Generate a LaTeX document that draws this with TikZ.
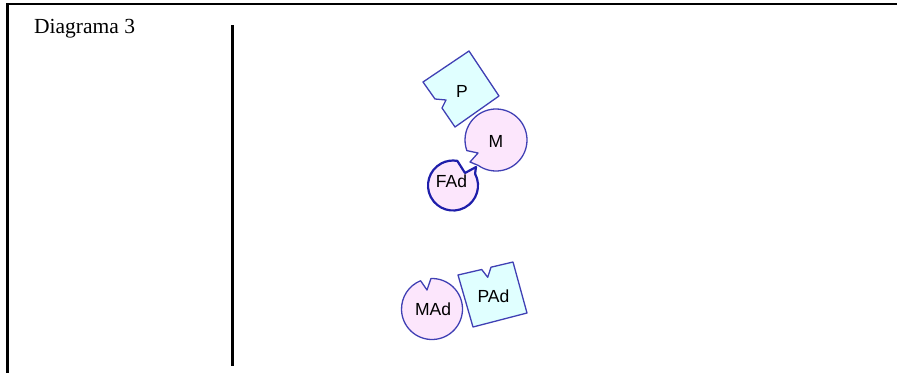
\documentclass[tikz,border=0pt]{standalone}
\usepackage{fontspec}
\setmainfont{Liberation Serif}
\newfontfamily\labelfont{Liberation Sans}
\definecolor{cyanfill}{HTML}{E0FFFF}
\definecolor{pinkfill}{HTML}{FCE6FC}
\definecolor{edgeblue}{HTML}{4040B4}
\definecolor{darkblue}{HTML}{1E1EAA}
\begin{document}
\begin{tikzpicture}[x=1pt,y=-1pt,
  frameline/.style={line width=2.2pt,black},
  piece/.style={draw=edgeblue,line width=1.3pt,line join=round},
  cyanpiece/.style={piece,fill=cyanfill},
  pinkpiece/.style={piece,fill=pinkfill},
  boldpiece/.style={draw=darkblue,fill=pinkfill,line width=2.2pt,line join=round},
  lab/.style={font=\labelfont\fontsize{17.5}{17.5}\selectfont,inner sep=0pt}]
\useasboundingbox (0,0) rectangle (897,373);
% frame
\coordinate (tl) at (7.5,4);
\coordinate (tr) at (897,4);
\coordinate (bl) at (7.5,373);
\draw[frameline] (tr) -- (tl) -- (bl);
\coordinate (dtop) at (232.5,25);
\coordinate (dbot) at (232.5,366);
\draw[line width=3pt] (dtop) -- (dbot);
\node[anchor=base west,inner sep=0pt,font=\fontsize{21.5}{21.5}\selectfont] (title) at (34,33) {Diagrama 3};
% P
\draw[cyanpiece] (423,82) -- (469,51) -- (499,96) -- (455,127) -- (442,108) -- (446,100) -- (435,99) -- cycle;
\node[lab] (P) at (462,91) {P};
% M
\draw[pinkpiece] (496,140) ++(125:31) arc[start angle=125,end angle=-200,radius=31] -- (478,153) -- (470,162) -- cycle;
\node[lab] (M) at (496,141) {M};
% FAd
\draw[boldpiece] (453,185.5) ++(-28:25) arc[start angle=-28,end angle=280,radius=25] -- (465,173) -- (476,167) -- cycle;
\node[lab] (FAd) at (451.5,181) {FAd};
% MAd
\draw[pinkpiece] (432,309) ++(268:30.5) arc[start angle=268,end angle=608,radius=30.5] -- (427,290) -- cycle;
\node[lab] (MAd) at (433,309) {MAd};
% PAd
\draw[cyanpiece] (458,275) -- (481.7,269.5) -- (487.7,277.3) -- (491,267.2) -- (513,262) -- (527,313) -- (473,327) -- cycle;
\node[lab] (PAd) at (493.5,296.5) {PAd};
\end{tikzpicture}
\end{document}
